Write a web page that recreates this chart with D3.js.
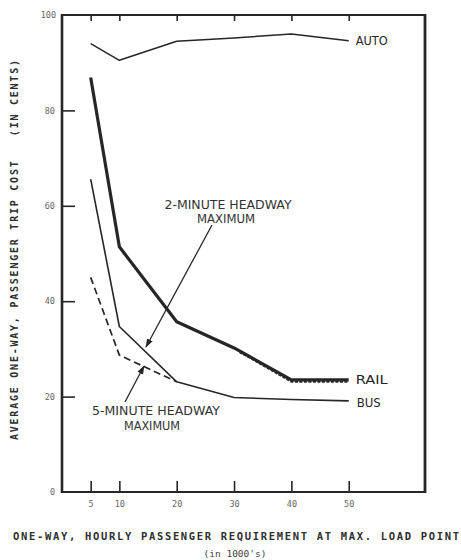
<!DOCTYPE html>
<html>
<head>
<meta charset="utf-8">
<script src="https://cdn.jsdelivr.net/npm/d3@7"></script>
<style>
  html, body { margin: 0; padding: 0; background: #fff; }
  svg { display: block; }
</style>
</head>
<body>
<svg id="chart" width="461" height="560"></svg>
<script>
// Passenger volume (thousands per hour) and cost in cents
const volumes = [5, 10, 20, 30, 40, 50];
const autoCost = [94, 90.5, 94.5, 95.2, 96, 94.6];
const railCost = [86.9, 51.4, 35.7, 30.2, 23.5, 23.5];
const busCost = [65.6, 34.7, 23.1, 19.8, 19.4, 19.1];
const bus5Volumes = [5, 10, 20];
const bus5Cost = [45, 28.7, 23.1];
const railTailVolumes = [31, 40, 50];
const railTailCost = [29.4, 23.2, 23.2];
const xTicks = [5, 10, 20, 30, 40, 50];
const yTicks = [0, 20, 40, 60, 80, 100];

const svg = d3.select("#chart");
const plotL = 62, plotR = 425, plotT = 15, plotB = 492;

const x = d3.scaleLinear().domain([0, 63.3]).range([plotL, plotR]);
const y = d3.scaleLinear().domain([0, 100]).range([plotB, plotT]);

const ink = "#262626";

// frame
svg.append("line").attr("x1", plotL).attr("x2", plotR).attr("y1", plotT).attr("y2", plotT)
  .attr("stroke", ink).attr("stroke-width", 1.8);
svg.append("line").attr("x1", plotL).attr("x2", plotR + 1).attr("y1", plotB).attr("y2", plotB)
  .attr("stroke", ink).attr("stroke-width", 2.2);
svg.append("line").attr("x1", plotL).attr("x2", plotL).attr("y1", plotT - 1).attr("y2", plotB + 1)
  .attr("stroke", ink).attr("stroke-width", 2.6);
svg.append("line").attr("x1", plotR).attr("x2", plotR).attr("y1", plotT - 1).attr("y2", plotB + 1)
  .attr("stroke", ink).attr("stroke-width", 2.8);

// bottom axis: ticks pointing up into the plot
const xAxis = svg.append("g").attr("transform", `translate(0,${plotB})`)
  .call(d3.axisBottom(x).tickValues(xTicks).tickSize(-11).tickPadding(14));
xAxis.select(".domain").remove();
xAxis.selectAll(".tick line").attr("stroke", ink).attr("stroke-width", 1.6);
xAxis.selectAll(".tick text").attr("fill", "#666").attr("font-family", "DejaVu Sans Mono")
  .attr("font-size", 8.5).attr("dy", "0.15em");

// top axis: short ticks pointing down
const xTop = svg.append("g").attr("transform", `translate(0,${plotT})`)
  .call(d3.axisTop(x).tickValues(xTicks).tickSize(-6).tickFormat(""));
xTop.select(".domain").remove();
xTop.selectAll(".tick line").attr("stroke", ink).attr("stroke-width", 1.6);

// left axis: ticks pointing right into the plot
const yAxis = svg.append("g").attr("transform", `translate(${plotL},0)`)
  .call(d3.axisLeft(y).tickValues(yTicks).tickSize(-13).tickPadding(6));
yAxis.select(".domain").remove();
yAxis.selectAll(".tick line").attr("stroke", ink).attr("stroke-width", 1.6)
  .attr("display", d => (d === 0 || d === 100) ? "none" : null);
yAxis.selectAll(".tick text").attr("fill", "#666").attr("font-family", "DejaVu Sans Mono")
  .attr("font-size", 8.5).attr("dx", d => d === 100 ? "0" : "-1");

const line = d3.line().x(d => x(d[0])).y(d => y(d[1]));

function series(xs, ys, width, dash) {
  svg.append("path")
    .datum(xs.map((v, i) => [v, ys[i]]))
    .attr("d", line)
    .attr("fill", "none")
    .attr("stroke", ink)
    .attr("stroke-width", width)
    .attr("stroke-linejoin", "round")
    .attr("stroke-dasharray", dash || null);
}

series(volumes, autoCost, 1.5);
series(volumes, railCost, 3.2);
series(railTailVolumes, railTailCost, 2.6, "3,1.5");
series(volumes, busCost, 1.6);
series(bus5Volumes, bus5Cost, 1.7, "7,4");

// series labels
const labelFont = "DejaVu Sans";
function label(txt, xv, yv, len) {
  svg.append("text").attr("x", xv).attr("y", yv).text(txt)
    .attr("font-family", labelFont).attr("font-size", 11.5)
    .attr("fill", ink).attr("dominant-baseline", "middle")
    .attr("textLength", len).attr("lengthAdjust", "spacingAndGlyphs");
}
label("AUTO", x(50) + 7, y(autoCost[5]) + 1, 32);
label("RAIL", x(50) + 7, y(railCost[5]) + 1, 32);
label("BUS", x(50) + 8, y(busCost[5]) + 3, 24);

// headway annotations
function note(txt, cx, cy, len) {
  svg.append("text").attr("x", cx).attr("y", cy).text(txt)
    .attr("font-family", labelFont).attr("font-size", 11.5)
    .attr("fill", "#333").attr("text-anchor", "middle").attr("dominant-baseline", "middle")
    .attr("textLength", len).attr("lengthAdjust", "spacingAndGlyphs");
}
note("2-MINUTE HEADWAY", 228, 205, 127);
note("MAXIMUM", 226, 219, 58);
note("5-MINUTE HEADWAY", 156, 411.5, 128);
note("MAXIMUM", 152, 426.5, 56);

// arrows pointing at the bus curves
svg.append("defs").append("marker")
  .attr("id", "head").attr("viewBox", "0 0 10 10").attr("refX", 9).attr("refY", 5)
  .attr("markerWidth", 9).attr("markerHeight", 9).attr("markerUnits", "userSpaceOnUse")
  .attr("orient", "auto")
  .append("path").attr("d", "M0,1.5 L10,5 L0,8.5 Z").attr("fill", ink);

svg.append("line").attr("x1", 212).attr("y1", 225).attr("x2", 146).attr("y2", 347)
  .attr("stroke", ink).attr("stroke-width", 1.3).attr("marker-end", "url(#head)");
svg.append("line").attr("x1", 125).attr("y1", 402).attr("x2", 144).attr("y2", 366)
  .attr("stroke", ink).attr("stroke-width", 1.3).attr("marker-end", "url(#head)");

// axis titles
const titleFont = "DejaVu Sans Mono";
svg.append("text")
  .attr("transform", "translate(18,250) rotate(-90)")
  .attr("text-anchor", "middle")
  .attr("font-family", titleFont).attr("font-weight", "bold").attr("font-size", 10)
  .attr("fill", "#2e2e2e")
  .attr("textLength", 380).attr("lengthAdjust", "spacing")
  .attr("xml:space", "preserve")
  .text("AVERAGE ONE-WAY, PASSENGER TRIP COST   (IN CENTS)");

svg.append("text")
  .attr("x", 236).attr("y", 540)
  .attr("text-anchor", "middle")
  .attr("font-family", titleFont).attr("font-weight", "bold").attr("font-size", 10.5)
  .attr("fill", "#2e2e2e")
  .attr("textLength", 446).attr("lengthAdjust", "spacing")
  .text("ONE-WAY, HOURLY PASSENGER REQUIREMENT AT MAX. LOAD POINT");

svg.append("text")
  .attr("x", 235).attr("y", 557)
  .attr("text-anchor", "middle")
  .attr("font-family", titleFont).attr("font-size", 9.5)
  .attr("fill", "#444")
  .text("(in 1000's)");
</script>
</body>
</html>
